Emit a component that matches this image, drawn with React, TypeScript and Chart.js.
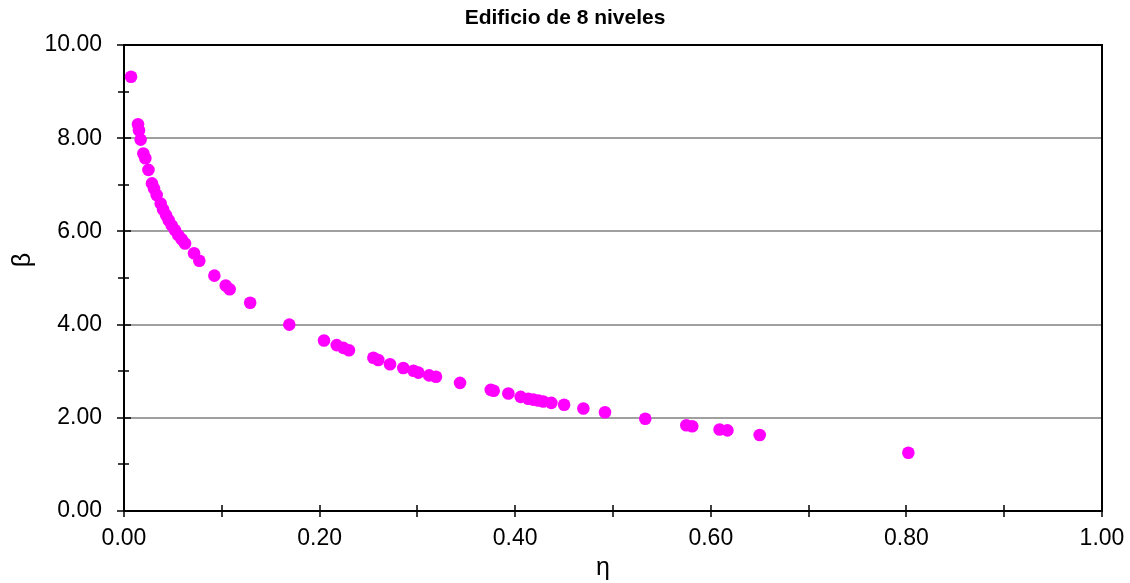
import React, { useEffect, useRef } from "react";
import { Chart, registerables } from "chart.js";

Chart.register(...registerables);

const titleText = "Edificio de 8 niveles";
const xAxisTitle = "η";
const yAxisTitle = "β";

const etaValues = [
  0.0072, 0.0143, 0.0153, 0.017, 0.0198, 0.0218, 0.025, 0.0286, 0.0307, 0.0334,
  0.0375, 0.04, 0.043, 0.0457, 0.0488, 0.052, 0.0555, 0.059, 0.0624, 0.0716,
  0.077, 0.0924, 0.104, 0.108, 0.129, 0.169, 0.2045, 0.2175, 0.2243, 0.23,
  0.255, 0.26, 0.272, 0.2856, 0.296, 0.301, 0.312, 0.319, 0.3436, 0.375,
  0.378, 0.393, 0.4056, 0.4134, 0.4185, 0.4236, 0.4287, 0.437, 0.45, 0.4697,
  0.4918, 0.533, 0.575, 0.581, 0.609, 0.617, 0.65, 0.802,
];

const betaValues = [
  9.32, 8.3, 8.17, 7.97, 7.67, 7.57, 7.32, 7.03, 6.92, 6.78,
  6.6, 6.47, 6.35, 6.24, 6.13, 6.03, 5.92, 5.83, 5.74, 5.53,
  5.37, 5.05, 4.84, 4.76, 4.47, 4.0, 3.66, 3.56, 3.5, 3.45,
  3.29, 3.24, 3.15, 3.07, 3.01, 2.97, 2.91, 2.88, 2.75, 2.6,
  2.58, 2.52, 2.45, 2.41, 2.39, 2.37, 2.35, 2.32, 2.28, 2.2,
  2.12, 1.98, 1.84, 1.82, 1.75, 1.73, 1.63, 1.25,
];

const xMin = 0, xMax = 1, xMajor = 0.2, xMinor = 0.1;
const yMin = 0, yMax = 10, yMajor = 2, yMinor = 1;

const FONT = "'Liberation Sans', Arial, sans-serif";

const framePlugin = {
  id: "frame",
  afterDraw(chart: any) {
    const { ctx, chartArea } = chart;
    const { left, right, top, bottom } = chartArea;
    const xs = chart.scales.x;
    const ys = chart.scales.y;
    ctx.save();
    ctx.strokeStyle = "#000";
    ctx.lineWidth = 2;
    ctx.beginPath();
    ctx.moveTo(left, top);
    ctx.lineTo(right, top);
    ctx.lineTo(right, bottom);
    ctx.stroke();
    const ny = Math.round((yMax - yMin) / yMinor);
    for (let i = 0; i <= ny; i++) {
      const v = yMin + i * yMinor;
      const py = Math.round(ys.getPixelForValue(v));
      const major = Math.abs(v / yMajor - Math.round(v / yMajor)) < 1e-6;
      ctx.lineWidth = 1.5;
      ctx.beginPath();
      ctx.moveTo(left - (major ? 7 : 6), py);
      ctx.lineTo(left + (major ? 7 : 5), py);
      ctx.stroke();
    }
    const nx = Math.round((xMax - xMin) / xMinor);
    for (let i = 0; i <= nx; i++) {
      const v = xMin + i * xMinor;
      const px = Math.round(xs.getPixelForValue(v));
      ctx.lineWidth = 1.5;
      ctx.beginPath();
      ctx.moveTo(px, bottom - 6);
      ctx.lineTo(px, bottom + 6);
      ctx.stroke();
    }
    ctx.fillStyle = "#000";
    ctx.font = `25px ${FONT}`;
    ctx.textAlign = "center";
    ctx.textBaseline = "alphabetic";
    ctx.fillText(xAxisTitle, (left + right) / 2 - 10, 575);
    ctx.save();
    ctx.translate(30, (top + bottom) / 2 - 18);
    ctx.rotate(-Math.PI / 2);
    ctx.fillText(yAxisTitle, 0, 0);
    ctx.restore();
    ctx.restore();
  },
};

export default function App() {
  const ref = useRef<HTMLCanvasElement | null>(null);
  useEffect(() => {
    document.body.style.margin = "0";
    const points = etaValues.map((x, i) => ({ x, y: betaValues[i] }));
    const chart = new Chart(ref.current as HTMLCanvasElement, {
      type: "scatter",
      data: {
        datasets: [
          {
            data: points,
            backgroundColor: "#ff00ff",
            borderColor: "#ff00ff",
            pointRadius: 6.3,
            pointHoverRadius: 6.3,
            borderWidth: 0,
          },
        ],
      },
      options: {
        animation: false,
        responsive: false,
        layout: { padding: 0 },
        plugins: {
          legend: { display: false },
          tooltip: { enabled: false },
          title: {
            display: true,
            text: titleText,
            color: "#000",
            font: { family: FONT, size: 21, weight: "bold" },
            padding: { top: 6, bottom: 13.8 },
          },
        },
        scales: {
          x: {
            type: "linear",
            min: xMin,
            max: xMax,
            afterFit: (s: any) => {
              s.height = 72;
              s.paddingLeft = 0;
              s.paddingRight = 28;
            },
            ticks: {
              stepSize: xMajor,
              color: "#000",
              font: { family: FONT, size: 23 },
              padding: 14,
              maxRotation: 0,
              callback: (v: any) => Number(v).toFixed(2),
            },
            grid: { display: false, drawTicks: false },
            border: { display: true, color: "#000", width: 2 },
          },
          y: {
            type: "linear",
            min: yMin,
            max: yMax,
            afterFit: (s: any) => {
              s.width = 124;
              s.paddingTop = 0;
              s.paddingBottom = 0;
            },
            ticks: {
              stepSize: yMajor,
              color: "#000",
              font: { family: FONT, size: 23 },
              padding: 22,
              callback: (v: any) => Number(v).toFixed(2),
            },
            grid: {
              drawTicks: false,
              lineWidth: 2,
              color: (c: any) =>
                c.tick && (c.tick.value === yMin || c.tick.value === yMax)
                  ? "rgba(0,0,0,0)"
                  : "#a0a0a0",
            },
            border: { display: true, color: "#000", width: 2 },
          },
        },
      },
      plugins: [framePlugin],
    });
    return () => chart.destroy();
  }, []);
  return <canvas ref={ref} width={1130} height={583} style={{ display: "block" }} />;
}
